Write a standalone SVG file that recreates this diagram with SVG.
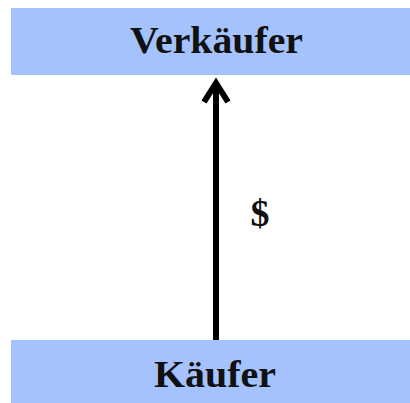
<svg xmlns="http://www.w3.org/2000/svg" width="410" height="403" viewBox="0 0 410 403">
<style>
.box{fill:#a4c2fe;}
.lbl{font-family:"Liberation Serif","Times New Roman",serif;font-weight:bold;font-size:38px;fill:#111;text-anchor:middle;}
.edge{stroke:#000;stroke-width:6;fill:none;}
</style>
<rect width="410" height="403" fill="#fff"/>
<g id="connectors">
<line class="edge" x1="216" y1="340" x2="216" y2="82"/>
<polyline class="edge" points="204,102 216,83 228,102" stroke-linejoin="miter"/>
<text x="260" y="226" font-family="Liberation Serif, serif" font-size="38" font-weight="bold" text-anchor="middle" fill="#111">$</text>
</g>
<g id="verkaeufer">
<rect class="box" x="11" y="8" width="399" height="67"/>
<text class="lbl" x="216.5" y="53" textLength="173" lengthAdjust="spacingAndGlyphs">Verkäufer</text>
</g>
<g id="kaeufer">
<rect class="box" x="11" y="340" width="399" height="63"/>
<text class="lbl" x="215" y="387" textLength="122" lengthAdjust="spacingAndGlyphs">Käufer</text>
</g>
</svg>
